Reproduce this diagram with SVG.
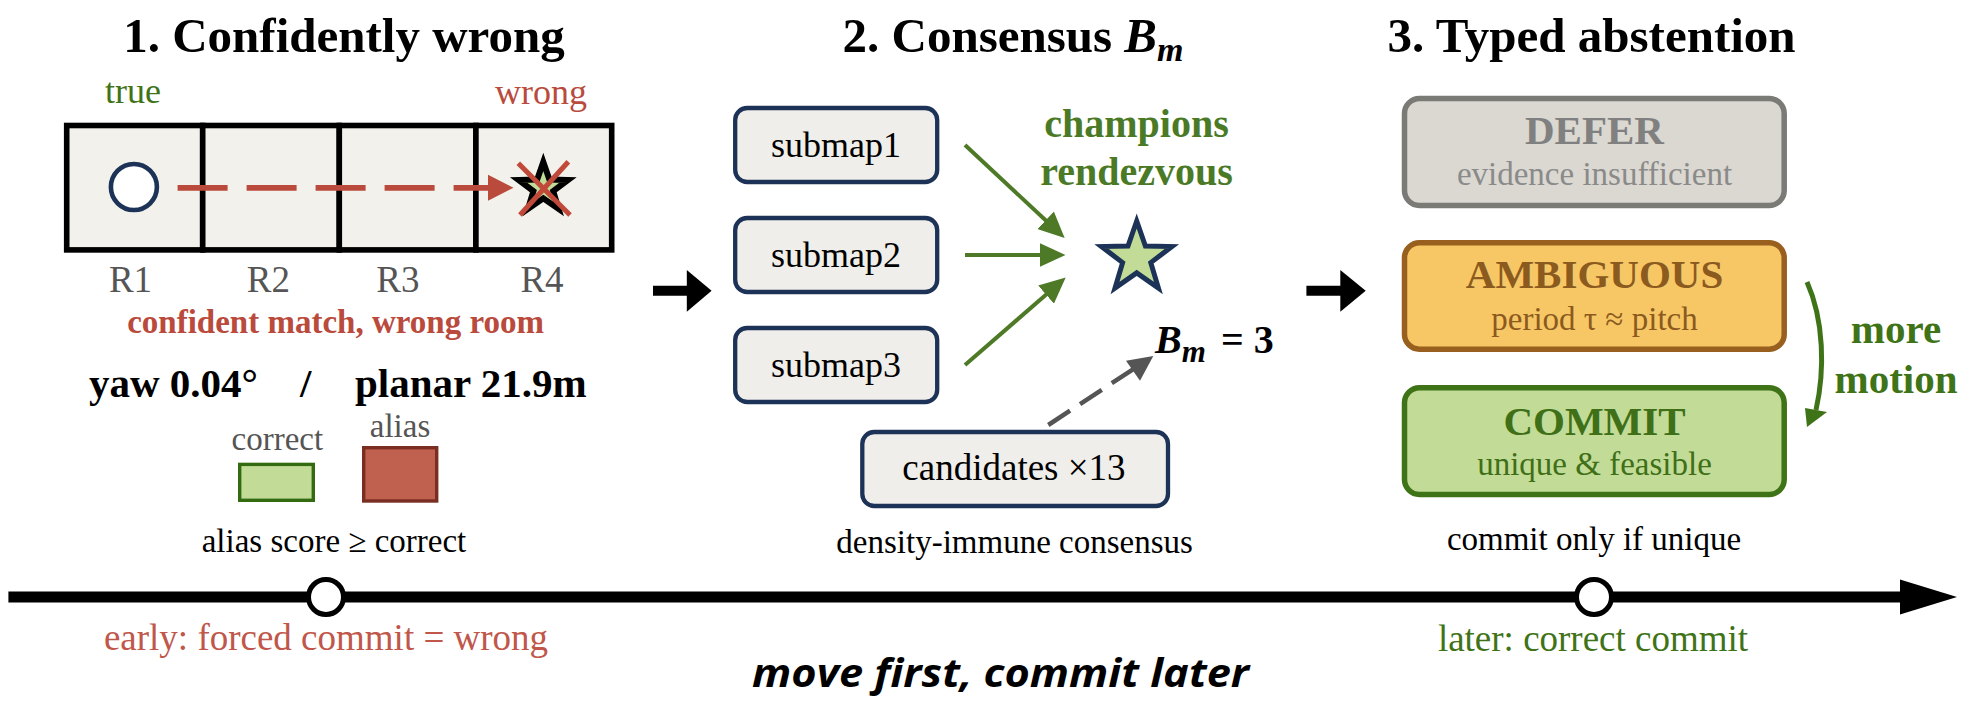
<svg xmlns="http://www.w3.org/2000/svg" width="1965" height="704" viewBox="0 0 1965 704">
<defs>
<style>
text{font-family:"Liberation Serif","Times New Roman",serif}
.title{font-size:49px;font-weight:bold;fill:#000;text-anchor:middle}
.lbl{font-size:37px;fill:#555;text-anchor:middle}
.room{fill:#f2f1ec;stroke:#000;stroke-width:5.6}
.box{fill:#efeeea;stroke:#1c3256;stroke-width:4.3}
.gline{stroke:#4e7a27;stroke-width:4;fill:none}
.sub{font-size:33px;text-anchor:middle}
.big{font-size:41px;font-weight:bold;text-anchor:middle}
</style>
<marker id="gh" viewBox="0 0 26 24" refX="1" refY="12" markerWidth="26" markerHeight="24" markerUnits="userSpaceOnUse" orient="auto"><path d="M0,0 L26,12 L0,24 z" fill="#4e7a27"/></marker>
</defs>
<rect width="1965" height="704" fill="#fff"/>

<!-- Panel 1 -->
<g id="panel1">
<text class="title" x="344" y="51.7">1. Confidently wrong</text>
<text x="133" y="103" font-size="36" fill="#3f7317" text-anchor="middle">true</text>
<text x="541" y="104" font-size="36" fill="#b94a3c" text-anchor="middle">wrong</text>
<g id="rooms">
<rect class="room" x="66.7" y="125.5" width="136" height="124.4"/>
<rect class="room" x="202.7" y="125.5" width="136.6" height="124.4"/>
<rect class="room" x="339.3" y="125.5" width="136.6" height="124.4"/>
<rect class="room" x="475.9" y="125.5" width="135.8" height="124.4"/>
</g>
<circle id="truepos" cx="133.9" cy="187" r="23" fill="#fff" stroke="#1c3256" stroke-width="4.6"/>
<g id="wrongstar">
<polygon points="543.3,162 549.4,179.6 568,180 553.2,191.2 558.6,209 543.3,198.4 528,209 533.4,191.2 518.6,180 537.2,179.6" fill="#c2dc98" stroke="#000" stroke-width="6"/>
<line x1="518.3" y1="163.3" x2="570" y2="215" stroke="#c0493a" stroke-width="5"/>
<line x1="568.3" y1="161.7" x2="520" y2="215" stroke="#c0493a" stroke-width="5"/>
</g>
<text class="lbl" x="130.5" y="291.7">R1</text>
<text class="lbl" x="268.3" y="291.7">R2</text>
<text class="lbl" x="397.8" y="291.7">R3</text>
<text class="lbl" x="542" y="291.7">R4</text>
<text x="335.6" y="333" font-size="33" font-weight="bold" fill="#b94a3c" text-anchor="middle">confident match, wrong room</text>
<text y="396.7" font-size="41" font-weight="bold" fill="#000"><tspan x="89">yaw 0.04°</tspan><tspan x="300">/</tspan><tspan x="355">planar 21.9m</tspan></text>
<text x="277.3" y="450" font-size="33" fill="#555" text-anchor="middle">correct</text>
<text x="400" y="436.7" font-size="33" fill="#555" text-anchor="middle">alias</text>
<rect id="legCorrect" x="239.7" y="464.4" width="73.6" height="35.9" fill="#c2dc98" stroke="#336b10" stroke-width="3.4"/>
<rect id="legAlias" x="363.7" y="447.7" width="73" height="53.3" fill="#c0604f" stroke="#7a2e22" stroke-width="3.4"/>
<text class="sub" x="334" y="551.7" fill="#000">alias score ≥ correct</text>
</g>

<!-- Panel 2 -->
<g id="panel2">
<text class="title" x="1013" y="51.7">2. Consensus <tspan font-style="italic">B</tspan><tspan font-style="italic" font-size="34" dy="9">m</tspan></text>
<g id="submap1"><rect class="box" x="735.2" y="108" width="202" height="74" rx="12"/><text x="836" y="156.7" font-size="36" text-anchor="middle">submap1</text></g>
<g id="submap2"><rect class="box" x="735.2" y="218" width="202" height="74" rx="12"/><text x="836" y="266.7" font-size="36" text-anchor="middle">submap2</text></g>
<g id="submap3"><rect class="box" x="735.2" y="328" width="202" height="74" rx="12"/><text x="836" y="376.7" font-size="36" text-anchor="middle">submap3</text></g>
<g id="candidates"><rect class="box" x="862.3" y="432" width="305.7" height="74" rx="12"/><text x="1014" y="480" font-size="37" text-anchor="middle">candidates ×13</text></g>
<g id="rendezvous">
<polygon points="1136.7,221 1145.4,246 1171.9,246.6 1150.8,262.6 1158.4,288 1136.7,272.9 1115,288 1122.6,262.6 1101.5,246.6 1128,246" fill="#c2dc98" stroke="#1c3256" stroke-width="5"/>
<text x="1136.5" y="136.7" font-size="40" font-weight="bold" fill="#4b7a26" text-anchor="middle">champions</text>
<text x="1136.5" y="185" font-size="40" font-weight="bold" fill="#4b7a26" text-anchor="middle">rendezvous</text>
</g>
<text id="bm" y="353.3" font-size="40" font-weight="bold" fill="#000"><tspan x="1155" font-style="italic">B</tspan><tspan font-style="italic" font-size="31" dy="8.4">m</tspan><tspan x="1221" dy="-8.4">= 3</tspan></text>
<text class="sub" x="1014.6" y="553.3" fill="#000">density-immune consensus</text>
</g>

<!-- Panel 3 -->
<g id="panel3">
<text class="title" x="1591.6" y="51.7">3. Typed abstention</text>
<g id="defer"><rect x="1404.5" y="98.5" width="379.7" height="107" rx="15" fill="#dad8d0" stroke="#7a7a76" stroke-width="5.5"/>
<text class="big" x="1594.5" y="144" fill="#808080">DEFER</text>
<text class="sub" x="1594.5" y="185" fill="#8a8a8a">evidence insufficient</text></g>
<g id="ambiguous"><rect x="1404.5" y="242.7" width="379.7" height="106.5" rx="15" fill="#f7c766" stroke="#985f1f" stroke-width="5.5"/>
<text class="big" x="1594.5" y="288.3" fill="#8b5a1e">AMBIGUOUS</text>
<text class="sub" x="1594.5" y="330" fill="#8b5a1e">period τ ≈ pitch</text></g>
<g id="commit"><rect x="1404.5" y="387.7" width="379.7" height="106.8" rx="15" fill="#c2dc98" stroke="#3f7317" stroke-width="5.5"/>
<text class="big" x="1594.5" y="435" fill="#3f6f17">COMMIT</text>
<text class="sub" x="1594.5" y="475" fill="#3f6f17">unique &amp; feasible</text></g>
<text class="big" x="1896" y="343.3" fill="#3f7317">more</text>
<text class="big" x="1896" y="393.3" fill="#3f7317">motion</text>
<text class="sub" x="1594" y="550" fill="#000">commit only if unique</text>
</g>

<!-- Connectors -->
<g id="connectors">
<line x1="177.6" y1="187.8" x2="489" y2="187.8" stroke="#b94a3c" stroke-width="5.7" stroke-dasharray="50 19"/>
<polygon points="488,174.8 513.5,187.8 488,200.8" fill="#b94a3c"/>
<line class="gline" x1="965" y1="145" x2="1046.4" y2="221" marker-end="url(#gh)"/>
<line class="gline" x1="965" y1="255" x2="1040.5" y2="255" marker-end="url(#gh)"/>
<line class="gline" x1="965" y1="365" x2="1046.8" y2="294" marker-end="url(#gh)"/>
<line x1="1048.3" y1="425" x2="1133" y2="369.3" stroke="#555" stroke-width="4.5" stroke-dasharray="26 12"/>
<polygon points="1126,360.7 1153.3,356 1140,380.7" fill="#555"/>
<path d="M1807,282 C1824,320 1825,370 1816,410" fill="none" stroke="#3f7317" stroke-width="5"/>
<polygon points="1805,408 1827,412 1807,427" fill="#3f7317"/>
<line x1="653" y1="290.8" x2="688" y2="290.8" stroke="#000" stroke-width="10"/>
<polygon points="686.8,270 711.6,290.8 686.8,311.7" fill="#000"/>
<line x1="1306.4" y1="290.8" x2="1341.5" y2="290.8" stroke="#000" stroke-width="10"/>
<polygon points="1340.3,270 1365.7,290.8 1340.3,311.7" fill="#000"/>
</g>

<!-- Timeline -->
<g id="timeline">
<line x1="8.4" y1="597" x2="1902" y2="597" stroke="#000" stroke-width="11"/>
<polygon points="1900,579.5 1957,597 1900,614.5" fill="#000"/>
<circle cx="326" cy="597" r="17.5" fill="#fff" stroke="#000" stroke-width="5"/>
<circle cx="1594" cy="597" r="17.5" fill="#fff" stroke="#000" stroke-width="5"/>
<text x="326" y="650" font-size="37" fill="#c0574a" text-anchor="middle">early: forced commit = wrong</text>
<text x="1593" y="651" font-size="37" fill="#3f7317" text-anchor="middle">later: correct commit</text>
<text x="1000.6" y="686.7" font-size="40" font-weight="bold" font-style="italic" fill="#000" text-anchor="middle" textLength="497" lengthAdjust="spacingAndGlyphs" style="font-family:'Open Sans',sans-serif">move first, commit later</text>
</g>
</svg>
